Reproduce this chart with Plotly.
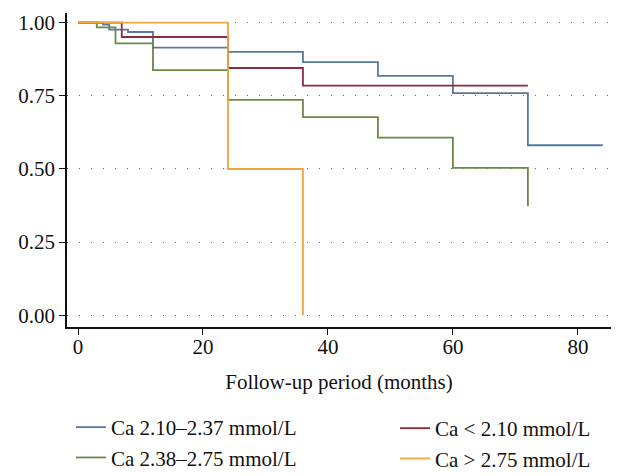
import plotly.graph_objects as go

# Data (Kaplan-Meier step curves)
blue_t = [0, 4, 5, 8, 12, 24, 36, 48, 60, 72, 84]
blue_s = [1.0, 0.993, 0.976, 0.968, 0.915, 0.90, 0.865, 0.818, 0.759, 0.581, 0.581]

red_t = [0, 7, 24, 36, 72]
red_s = [1.0, 0.951, 0.845, 0.785, 0.785]

green_t = [0, 3, 6, 12, 24, 36, 48, 60, 72]
green_s = [1.0, 0.984, 0.929, 0.838, 0.736, 0.677, 0.607, 0.504, 0.373]

orange_t = [0, 24, 36]
orange_s = [1.0, 0.5, 0.0]

names = ["Ca 2.10–2.37 mmol/L", "Ca < 2.10 mmol/L", "Ca 2.38–2.75 mmol/L", "Ca > 2.75 mmol/L"]
x_ticks = [0, 20, 40, 60, 80]
y_ticks = [0, 0.25, 0.5, 0.75, 1.0]

FONT = "Liberation Serif"
FS = 21
W, H = 626, 476

fig = go.Figure()
fig.add_trace(go.Scatter(x=blue_t, y=blue_s, mode="lines", line_shape="hv",
                         line=dict(color="#56799f", width=1.8), name=names[0], legend="legend"))
fig.add_trace(go.Scatter(x=red_t, y=red_s, mode="lines", line_shape="hv",
                         line=dict(color="#8e2b3c", width=1.8), name=names[1], legend="legend2"))
fig.add_trace(go.Scatter(x=green_t, y=green_s, mode="lines", line_shape="hv",
                         line=dict(color="#6a8b45", width=1.8), name=names[2], legend="legend"))
fig.add_trace(go.Scatter(x=orange_t, y=orange_s, mode="lines", line_shape="hv",
                         line=dict(color="#f4a63a", width=1.8), name=names[3], legend="legend2"))

leg_common = dict(xref="container", yref="container", xanchor="left", yanchor="top",
                  font=dict(family=FONT, size=FS, color="#111"), bgcolor="rgba(0,0,0,0)",
                  tracegroupgap=0, itemwidth=30)

fig.update_layout(
    width=W, height=H,
    margin=dict(l=59, r=23, t=5, b=157, autoexpand=False),
    paper_bgcolor="white", plot_bgcolor="white",
    font=dict(family=FONT, size=FS, color="#111"),
    legend=dict(x=63 / W, y=1 - 399 / H, **leg_common),
    legend2=dict(x=387 / W, y=1 - 400 / H, **leg_common),
    xaxis=dict(range=[-1.76, 85.3], tickvals=x_ticks, ticks="outside", ticklen=6,
               tickcolor="#111", tickwidth=1.2, showline=True, linecolor="#111", linewidth=1.5,
               showgrid=False, zeroline=False, automargin=False, ticklabelstandoff=-6,
               title=dict(text="Follow-up period (months)", standoff=16,
                          font=dict(family=FONT, size=FS, color="#111")),
               tickfont=dict(family=FONT, size=FS, color="#111")),
    yaxis=dict(range=[-0.04, 1.033], tickvals=y_ticks, tickformat=".2f", ticks="outside",
               ticklen=6, tickcolor="#111", tickwidth=1.2, showline=True, linecolor="#111",
               linewidth=1.5, showgrid=True, gridcolor="#666", gridwidth=1.3,
               griddash="1px,11px", zeroline=False, automargin=False,
               tickfont=dict(family=FONT, size=FS, color="#111")),
)

fig.write_html("out.html")
